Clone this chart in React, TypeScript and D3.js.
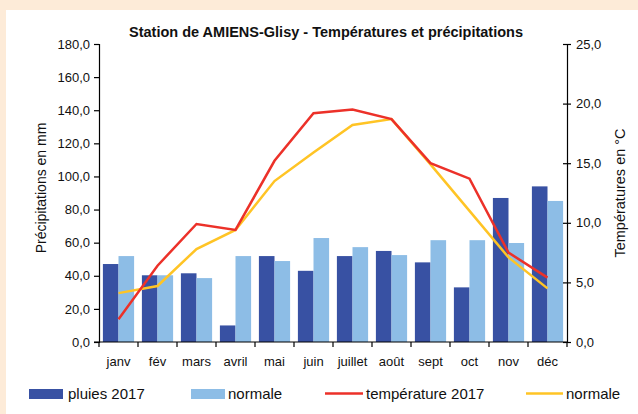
import React, { useEffect, useRef } from 'react';
import * as d3 from 'd3';

const months = ['janv', 'fév', 'mars', 'avril', 'mai', 'juin', 'juillet', 'août', 'sept', 'oct', 'nov', 'déc'];
const rain2017 = [47.1, 40.3, 41.5, 10.0, 51.9, 43.0, 51.9, 55.0, 48.1, 33.0, 87.0, 94.0];
const rainNormal = [51.9, 40.3, 38.6, 51.9, 48.9, 62.8, 57.3, 52.5, 61.5, 61.5, 59.8, 85.2];
const temp2017 = [1.9, 6.4, 9.9, 9.4, 15.2, 19.2, 19.5, 18.7, 15.0, 13.7, 7.5, 5.4];
const tempNormal = [4.1, 4.7, 7.8, 9.4, 13.5, 15.9, 18.2, 18.7, 14.9, 11.0, 7.1, 4.5];
const rainTicks = [0, 20, 40, 60, 80, 100, 120, 140, 160, 180];
const tempTicks = [0, 5, 10, 15, 20, 25];

const FONT = 'Liberation Sans, Arial, sans-serif';
const DARK = '#3851a3';
const LIGHT = '#8dbde6';
const RED = '#ec3129';
const YELLOW = '#ffc425';

const fmt = (v: number) => d3.format('.1f')(v).replace('.', ',');

const App = () => {
  const svgRef = useRef<SVGSVGElement | null>(null);

  useEffect(() => {
    const svg = d3.select(svgRef.current);
    svg.selectAll('*').remove();

    const width = 638;
    const height = 414;
    const left = 99;
    const right = 567;
    const top = 44;
    const bottom = 342;

    // background
    svg.append('rect').attr('width', width).attr('height', height).attr('fill', '#fdebd8');
    svg.append('rect').attr('x', 6).attr('y', 10).attr('width', width - 6).attr('height', height - 10).attr('fill', '#fff');

    const x = d3.scaleBand<string>().domain(months).range([left, right]);
    const yRain = d3.scaleLinear().domain([0, 180]).range([bottom, top]);
    const yTemp = d3.scaleLinear().domain([0, 25]).range([bottom, top]);

    const bw = x.bandwidth();
    const barW = (bw - 7.8) / 2;

    // bars
    const g = svg.append('g');
    g.selectAll('.dark')
      .data(rain2017)
      .enter()
      .append('rect')
      .attr('x', (d, i) => (x(months[i]) as number) + 3.9)
      .attr('y', d => yRain(d))
      .attr('width', barW)
      .attr('height', d => bottom - yRain(d))
      .attr('fill', DARK);
    g.selectAll('.light')
      .data(rainNormal)
      .enter()
      .append('rect')
      .attr('x', (d, i) => (x(months[i]) as number) + 3.9 + barW)
      .attr('y', d => yRain(d))
      .attr('width', barW)
      .attr('height', d => bottom - yRain(d))
      .attr('fill', LIGHT);

    // lines
    const cx = (i: number) => (x(months[i]) as number) + bw / 2;
    const line = d3.line<number>().x((d, i) => cx(i)).y(d => yTemp(d));
    svg.append('path').datum(tempNormal).attr('d', line).attr('fill', 'none')
      .attr('stroke', YELLOW).attr('stroke-width', 2.5);
    svg.append('path').datum(temp2017).attr('d', line).attr('fill', 'none')
      .attr('stroke', RED).attr('stroke-width', 2.5);

    // left axis
    const la = svg.append('g').attr('transform', `translate(${left},0)`)
      .call(d3.axisLeft(yRain).tickValues(rainTicks).tickFormat(d => fmt(+d)).tickSizeOuter(0).tickSize(5).tickPadding(4));
    la.selectAll('text').attr('font-size', 13).attr('font-family', FONT).attr('fill', '#111');
    la.selectAll('line, path').attr('stroke', '#000').attr('stroke-width', 1.2);

    // right axis
    const ra = svg.append('g').attr('transform', `translate(${right},0)`)
      .call(d3.axisRight(yTemp).tickValues(tempTicks).tickFormat(d => fmt(+d)).tickSizeOuter(0).tickSize(4).tickPadding(5));
    ra.selectAll('.tick line').attr('x1', -4);
    ra.selectAll('text').attr('font-size', 13).attr('font-family', FONT).attr('fill', '#111');
    ra.selectAll('line, path').attr('stroke', '#000').attr('stroke-width', 1.2);

    // bottom axis
    svg.append('line').attr('x1', left - 5).attr('x2', right).attr('y1', bottom).attr('y2', bottom)
      .attr('stroke', '#000').attr('stroke-width', 1.2);
    const bounds = months.map(m => x(m) as number).concat([right]);
    svg.selectAll('.xt')
      .data(bounds)
      .enter()
      .append('line')
      .attr('x1', d => d).attr('x2', d => d)
      .attr('y1', bottom).attr('y2', bottom + 5)
      .attr('stroke', '#000').attr('stroke-width', 1.2);
    svg.selectAll('.xl')
      .data(months)
      .enter()
      .append('text')
      .attr('x', d => (x(d) as number) + bw / 2)
      .attr('y', 366)
      .attr('text-anchor', 'middle')
      .attr('font-size', 13)
      .attr('font-family', FONT)
      .attr('fill', '#111')
      .text(d => d);

    // title and axis labels
    svg.append('text').attr('x', 326).attr('y', 37).attr('text-anchor', 'middle')
      .attr('font-size', 14.5).attr('font-weight', 'bold').attr('font-family', FONT).attr('fill', '#111')
      .text('Station de AMIENS-Glisy - Températures et précipitations');
    svg.append('text').attr('transform', 'translate(46,188) rotate(-90)').attr('text-anchor', 'middle')
      .attr('font-size', 14).attr('font-family', FONT).attr('fill', '#111')
      .text('Précipitations en mm');
    svg.append('text').attr('transform', 'translate(625,193) rotate(-90)').attr('text-anchor', 'middle')
      .attr('font-size', 14.5).attr('font-family', FONT).attr('fill', '#111')
      .text('Températures en °C');

    // legend
    const lg = svg.append('g').attr('font-size', 15).attr('font-family', FONT).attr('fill', '#111');
    lg.append('rect').attr('x', 29).attr('y', 389).attr('width', 34).attr('height', 10).attr('fill', DARK);
    lg.append('text').attr('x', 68).attr('y', 399).text('pluies 2017');
    lg.append('rect').attr('x', 191).attr('y', 389).attr('width', 34).attr('height', 10).attr('fill', LIGHT);
    lg.append('text').attr('x', 228).attr('y', 399).text('normale');
    lg.append('line').attr('x1', 325).attr('x2', 363).attr('y1', 393.5).attr('y2', 393.5).attr('stroke', RED).attr('stroke-width', 2.5);
    lg.append('text').attr('x', 366).attr('y', 399).text('température 2017');
    lg.append('line').attr('x1', 526).attr('x2', 563).attr('y1', 393.5).attr('y2', 393.5).attr('stroke', YELLOW).attr('stroke-width', 2.5);
    lg.append('text').attr('x', 566).attr('y', 399).text('normale');
  }, []);

  return (
    <svg ref={svgRef} width={638} height={414} style={{ position: 'absolute', left: 0, top: 0 }}></svg>
  );
};

export default App;
